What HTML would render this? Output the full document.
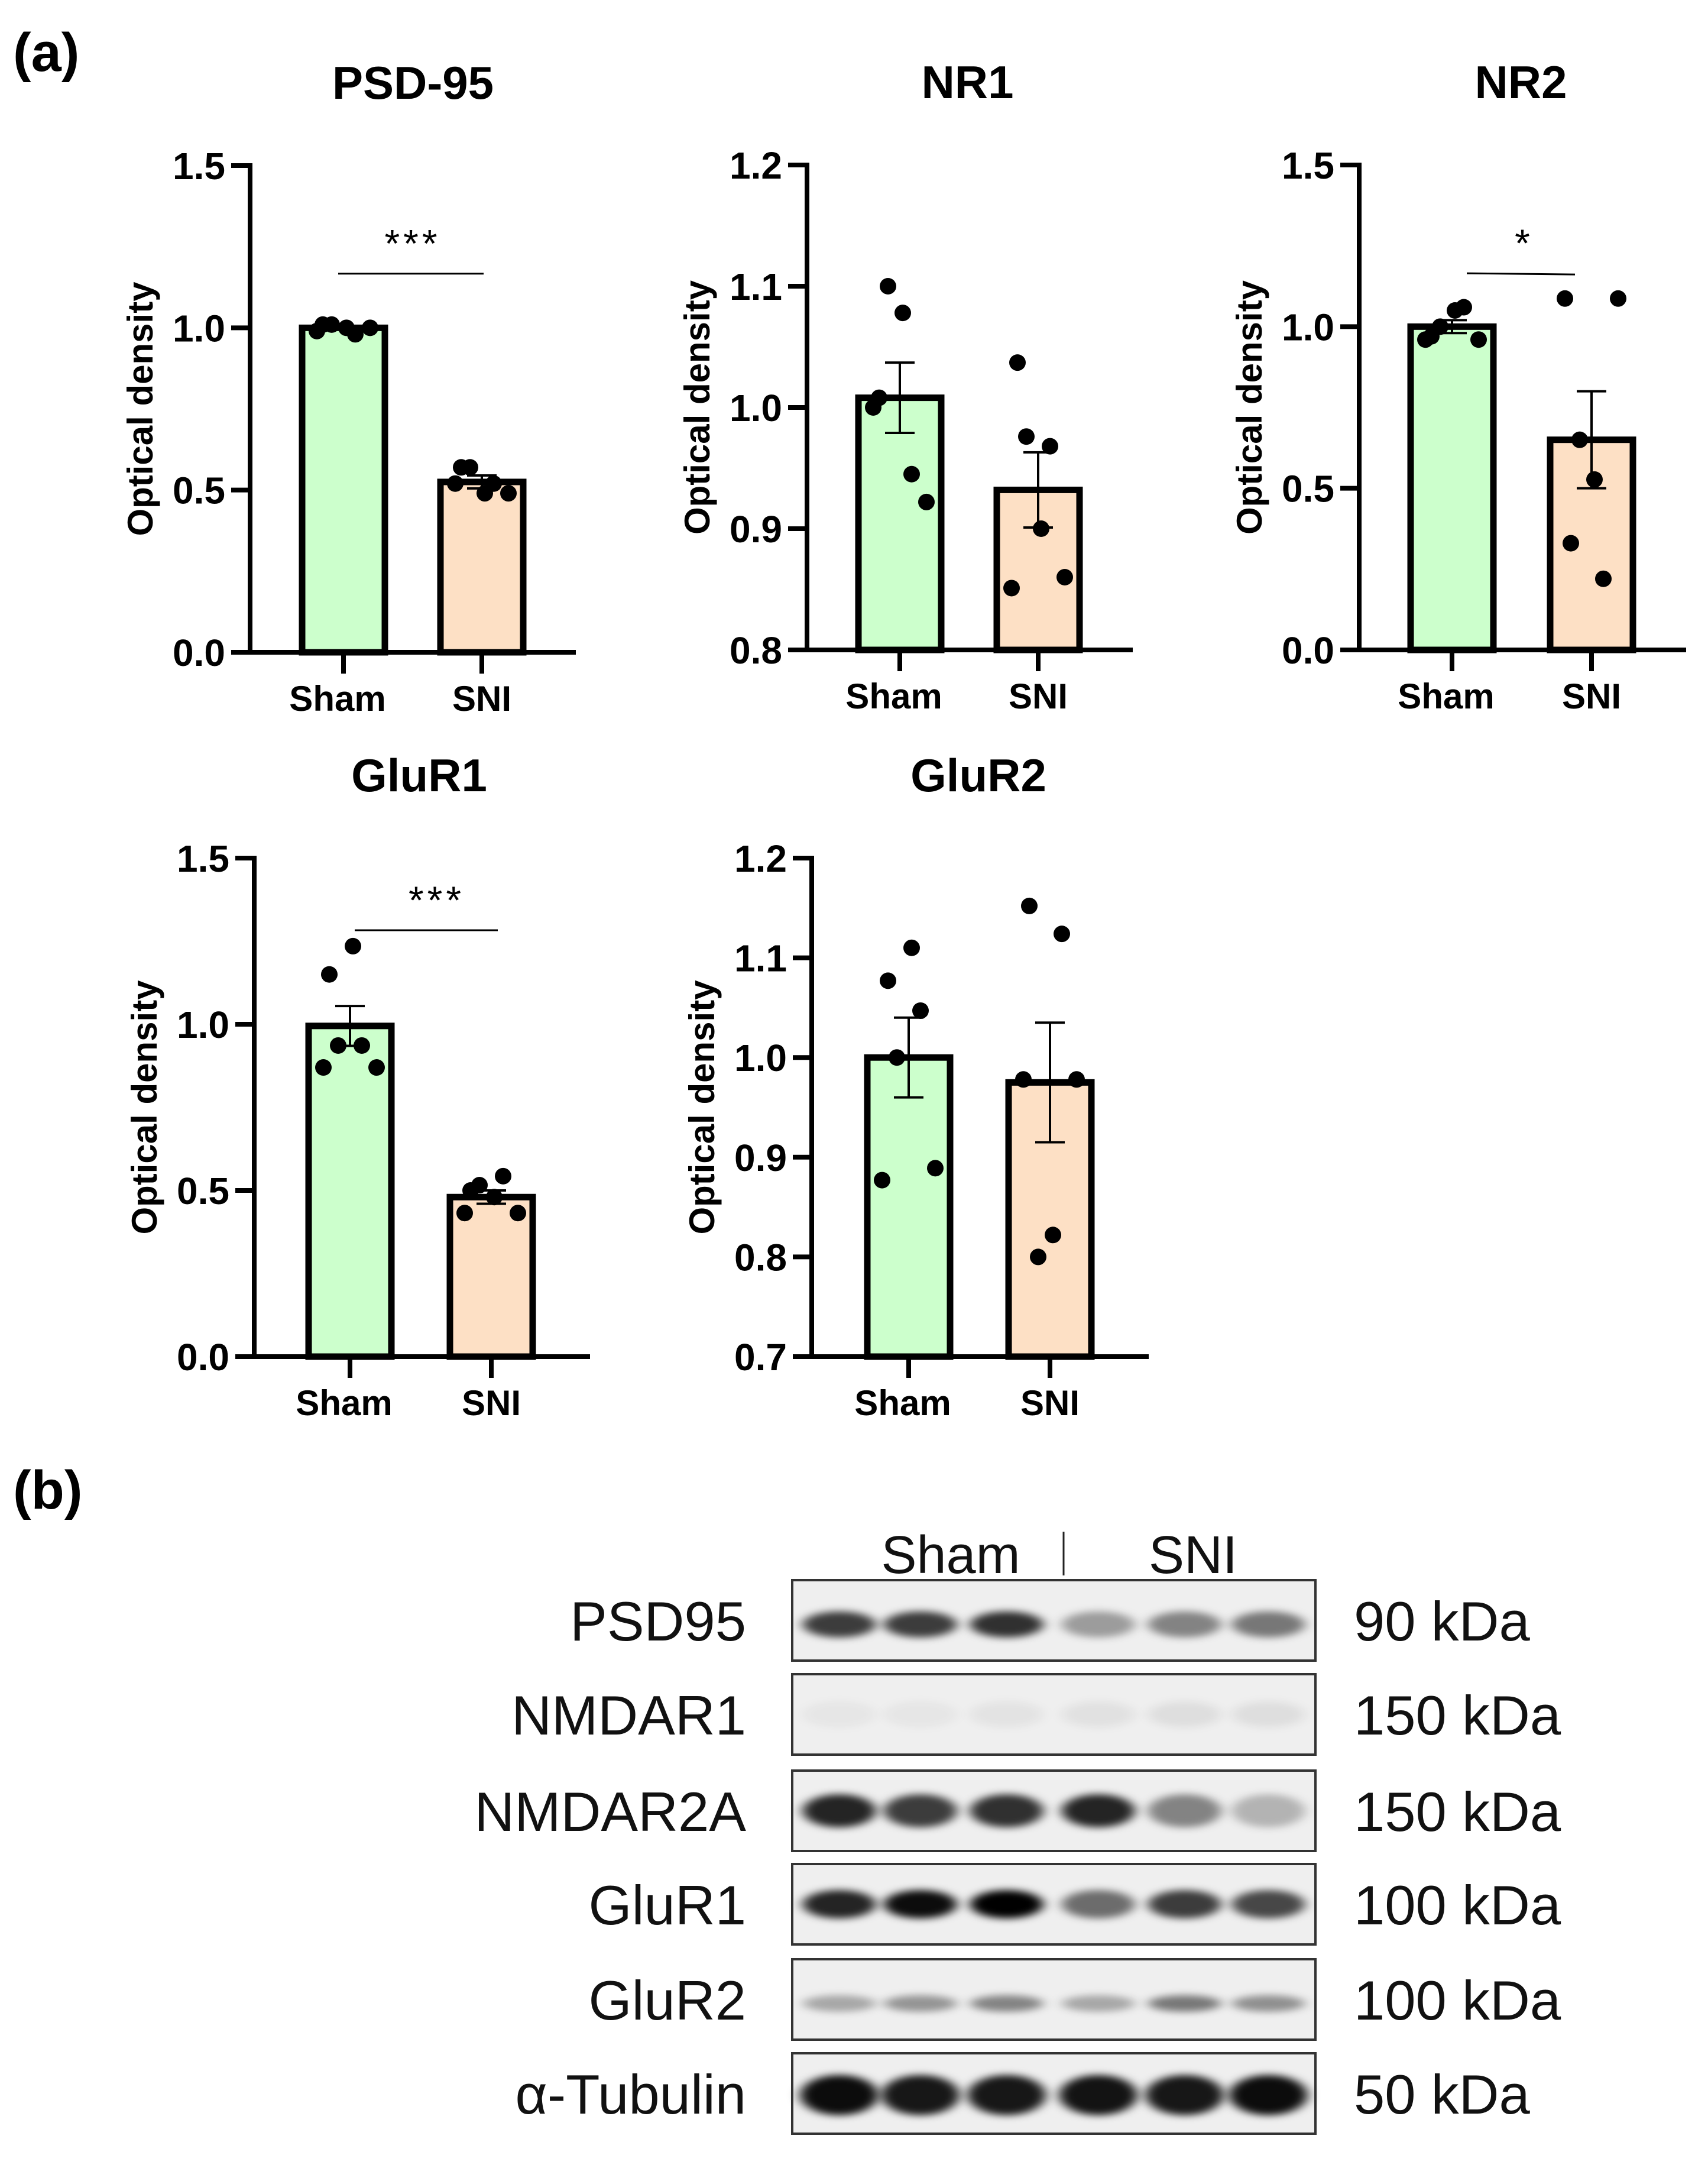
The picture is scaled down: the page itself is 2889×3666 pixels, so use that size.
<!DOCTYPE html>
<html><head><meta charset="utf-8"><style>
html,body{margin:0;padding:0;background:#fff;}
svg{display:block;}
text{font-family:"Liberation Sans",Arial,sans-serif;}
</style></head><body>
<svg id="fig" width="2889" height="3666" viewBox="0 0 2889 3666" xmlns="http://www.w3.org/2000/svg">
<defs>
<filter id="blur" x="-30%" y="-100%" width="160%" height="300%"><feGaussianBlur stdDeviation="10 6"/></filter>
</defs>
<text x="22" y="120" font-size="92" font-weight="bold" fill="#000">(a)</text>
<text x="22" y="2551" font-size="92" font-weight="bold" fill="#000">(b)</text>
<g id="charts"></g>
<g id="blot"></g>
</svg>
<script>
// ---- chart data ----
const categories = ["Sham", "SNI"];
const psdTicks = ["0.0", "0.5", "1.0", "1.5"];
const psdMeans = [1.0, 0.525];
const psdSem = [0.006, 0.02];
const psdShamDots = [0.99, 1.01, 1.0, 1.01, 0.98, 1.0];
const psdSniDots = [0.52, 0.57, 0.49, 0.57, 0.52, 0.49];
const nr1Ticks = ["0.8", "0.9", "1.0", "1.1", "1.2"];
const nr1Means = [1.008, 0.932];
const nr1Sem = [0.029, 0.031];
const nr1ShamDots = [1.0, 1.1, 1.078, 1.008, 0.945, 0.922];
const nr1SniDots = [0.851, 0.976, 0.9, 1.037, 0.968, 0.86];
const nr2Ticks = ["0.0", "0.5", "1.0", "1.5"];
const nr2Means = [1.0, 0.65];
const nr2Sem = [0.02, 0.15];
const nr2ShamDots = [0.96, 1.0, 1.05, 0.97, 1.06, 0.96];
const nr2SniDots = [1.087, 0.65, 0.527, 0.33, 0.22, 1.087];
const glu1Ticks = ["0.0", "0.5", "1.0", "1.5"];
const glu1Means = [0.995, 0.48];
const glu1Sem = [0.06, 0.02];
const glu1ShamDots = [0.87, 0.936, 1.235, 1.15, 0.936, 0.87];
const glu1SniDots = [0.432, 0.516, 0.48, 0.5, 0.543, 0.432];
const glu2Ticks = ["0.7", "0.8", "0.9", "1.0", "1.1", "1.2"];
const glu2Means = [1.0, 0.975];
const glu2Sem = [0.04, 0.06];
const glu2ShamDots = [0.877, 1.0, 1.11, 1.077, 1.047, 0.889];
const glu2SniDots = [0.978, 0.8, 0.822, 1.152, 1.124, 0.978];

const NS = "http://www.w3.org/2000/svg";
function mk(tag, attrs, parent, txt) {
  const e = document.createElementNS(NS, tag);
  for (const k in attrs) e.setAttribute(k, attrs[k]);
  if (txt !== undefined) e.textContent = txt;
  parent.appendChild(e);
  return e;
}
const jitter = [-0.45, -0.2, 0.05, -0.35, 0.2, 0.45];

function panel(cfg) {
  const root = document.getElementById("charts");
  const g = mk("g", {}, root);
  
  
  const X0 = cfg.x, top = cfg.top, bot = cfg.bot;
  const lo = parseFloat(cfg.ticks[0]), hi = parseFloat(cfg.ticks[cfg.ticks.length - 1]);
  const y = v => bot - (v - lo) / (hi - lo) * (bot - top);
  const cx = [X0 + cfg.c1, X0 + cfg.c2];
  const bw = 150;
  const t = mk("text", {x: (X0 + X0 + cfg.xend) / 2 + cfg.titleDx, y: top - 113, "font-size": 78, "font-weight": "bold", "text-anchor": "middle"}, g, cfg.title);
  
  
  const yt = mk("text", {x: 0, y: 0, "font-size": 60, "font-weight": "bold", "text-anchor": "middle", transform: `translate(${X0 - 165},${(top + bot) / 2}) rotate(-90)`}, g, "Optical density");
  
  
  const fills = ["#ccffcc", "#fde0c5"];
  [cfg.means[0], cfg.means[1]].forEach((m, i) => {
    const r = mk("rect", {x: cx[i] - bw / 2 + 5, y: y(m), width: bw - 10, height: bot - y(m), fill: fills[i], stroke: "#000", "stroke-width": 11}, g);
    
    
  });
  [cfg.sham, cfg.sni].forEach((arr, i) => {
    arr.forEach((v, j) => {
      const c = mk("circle", {cx: cx[i] + jitter[j] * 100, cy: y(v), r: 14, fill: "#000"}, g);
      
      
    });
  });
  cfg.means.forEach((m, i) => {
    const s = cfg.sem[i];
    const eg = mk("g", {stroke: "#000", "stroke-width": 4}, g);
    
    
    mk("line", {x1: cx[i], x2: cx[i], y1: y(m + s), y2: y(m - s)}, eg);
    mk("line", {x1: cx[i] - 25, x2: cx[i] + 25, y1: y(m + s), y2: y(m + s)}, eg);
    mk("line", {x1: cx[i] - 25, x2: cx[i] + 25, y1: y(m - s), y2: y(m - s)}, eg);
  });
  const ax = mk("g", {stroke: "#000", "stroke-width": 8, fill: "none"}, g);
  
  
  mk("line", {x1: X0, x2: X0, y1: top - 4, y2: bot + 4}, ax);
  mk("line", {x1: X0 - 32, x2: X0 + cfg.xend, y1: bot, y2: bot}, ax);
  cfg.ticks.forEach(tk => {
    const v = parseFloat(tk);
    mk("line", {x1: X0 - 32, x2: X0, y1: y(v), y2: y(v)}, ax);
    const tl = mk("text", {x: X0 - 42, y: y(v) + 23, "font-size": 64, "font-weight": "bold", "text-anchor": "end"}, g, tk);
    
    
  });
  categories.forEach((c, i) => {
    mk("line", {x1: cx[i], x2: cx[i], y1: bot, y2: bot + 36}, ax);
    const cl = mk("text", {x: cx[i] - (i === 0 ? 10 : 0), y: bot + 99, "font-size": 60, "font-weight": "bold", "text-anchor": "middle"}, g, c);
    
    
  });
  if (cfg.sig) {
    const sg = mk("g", {}, g);
    
    
    mk("line", {x1: cx[0] + cfg.sig.dx1, x2: cx[1] + cfg.sig.dx2, y1: y(cfg.sig.v), y2: y(cfg.sig.v) + (cfg.sig.tilt || 0), stroke: "#000", "stroke-width": 3}, sg);
    mk("text", {x: (cx[0] + cx[1]) / 2 + (cfg.sig.sx || 0), y: y(cfg.sig.v) - 28, "font-size": 66, "text-anchor": "middle", "letter-spacing": 6}, sg, cfg.sig.stars);
  }
}

panel({name: "psd-95", title: "PSD-95", x: 423, top: 280, bot: 1103, c1: 158, c2: 392, xend: 551, titleDx: 0, ticks: psdTicks, means: psdMeans, sem: psdSem, sham: psdShamDots, sni: psdSniDots, sig: {v: 1.167, dx1: -9, dx2: 3, stars: "***"}});
panel({name: "nr1", title: "NR1", x: 1365, top: 279, bot: 1099, c1: 157, c2: 391, xend: 551, titleDx: -4, ticks: nr1Ticks, means: nr1Means, sem: nr1Sem, sham: nr1ShamDots, sni: nr1SniDots});
panel({name: "nr2", title: "NR2", x: 2299, top: 279, bot: 1099, c1: 157, c2: 393, xend: 553, titleDx: -3, ticks: nr2Ticks, means: nr2Means, sem: nr2Sem, sham: nr2ShamDots, sni: nr2SniDots, sig: {v: 1.165, dx1: 25, dx2: -28, stars: "*", sx: 4, tilt: 2}});
panel({name: "glur1", title: "GluR1", x: 430, top: 1451, bot: 2294, c1: 162, c2: 401, xend: 568, titleDx: -5, ticks: glu1Ticks, means: glu1Means, sem: glu1Sem, sham: glu1ShamDots, sni: glu1SniDots, sig: {v: 1.283, dx1: 8, dx2: 11, stars: "***", sx: 27}});
panel({name: "glur2", title: "GluR2", x: 1373, top: 1451, bot: 2294, c1: 164, c2: 403, xend: 570, titleDx: -3, ticks: glu2Ticks, means: glu2Means, sem: glu2Sem, sham: glu2ShamDots, sni: glu2SniDots});

// ---- western blot ----
const blotProteins = ["PSD95", "NMDAR1", "NMDAR2A", "GluR1", "GluR2", "α-Tubulin"];
const blotKda = ["90 kDa", "150 kDa", "150 kDa", "100 kDa", "100 kDa", "50 kDa"];
const blotIntensity = [
  [0.75, 0.75, 0.8, 0.35, 0.45, 0.5],
  [0.04, 0.04, 0.05, 0.06, 0.07, 0.07],
  [0.85, 0.75, 0.8, 0.85, 0.45, 0.25],
  [0.85, 0.95, 1.0, 0.55, 0.75, 0.7],
  [0.3, 0.38, 0.45, 0.3, 0.5, 0.4],
  [0.95, 0.9, 0.9, 0.92, 0.9, 0.95]
];
(function () {
  const b = document.getElementById("blot");
  const bx = 1340, bw = 885;
  const rowTops = [2672, 2831, 2994, 3152, 3313, 3472];
  const rh = 136;
  const lanes = [0.09, 0.245, 0.41, 0.585, 0.75, 0.91];
  const hdr = mk("g", {}, b);
  
  
  mk("text", {x: 1608, y: 2660, "font-size": 90, "text-anchor": "middle", fill: "#111"}, hdr, "Sham");
  mk("text", {x: 2018, y: 2660, "font-size": 90, "text-anchor": "middle", fill: "#111"}, hdr, "SNI");
  mk("line", {x1: 1799, x2: 1799, y1: 2590, y2: 2664, stroke: "#222", "stroke-width": 3}, hdr);
  blotProteins.forEach((p, r) => {
    const top = rowTops[r];
    const rg = mk("g", {}, b);
    
    
    mk("rect", {x: bx, y: top, width: bw, height: rh, fill: "#efefef"}, rg);
    const bandY = r === 0 ? 0.55 : r === 4 ? 0.55 : r === 5 ? 0.52 : 0.5;
    lanes.forEach((f, l) => {
      const a = blotIntensity[r][l];
      const wide = r === 5 ? 66 : 62;
      const hgt = r === 5 ? 34 : r === 4 ? 14 : r === 3 ? 24 : r === 2 ? 28 : 22;
      const e = mk("ellipse", {cx: bx + f * bw, cy: top + bandY * rh, rx: wide, ry: hgt, fill: "#000", "fill-opacity": a, filter: "url(#blur)"}, rg);
      
      
    });
    mk("rect", {x: bx, y: top, width: bw, height: rh, fill: "none", stroke: "#333", "stroke-width": 4}, rg);
    const lb = mk("text", {x: 1262, y: top + rh / 2 + 34, "font-size": 94, "text-anchor": "end", fill: "#111"}, b, p);
    
    
    const kd = mk("text", {x: 2290, y: top + rh / 2 + 34, "font-size": 94, "text-anchor": "start", fill: "#111"}, b, blotKda[r]);
    
    
  });
})();
</script>
</body></html>
